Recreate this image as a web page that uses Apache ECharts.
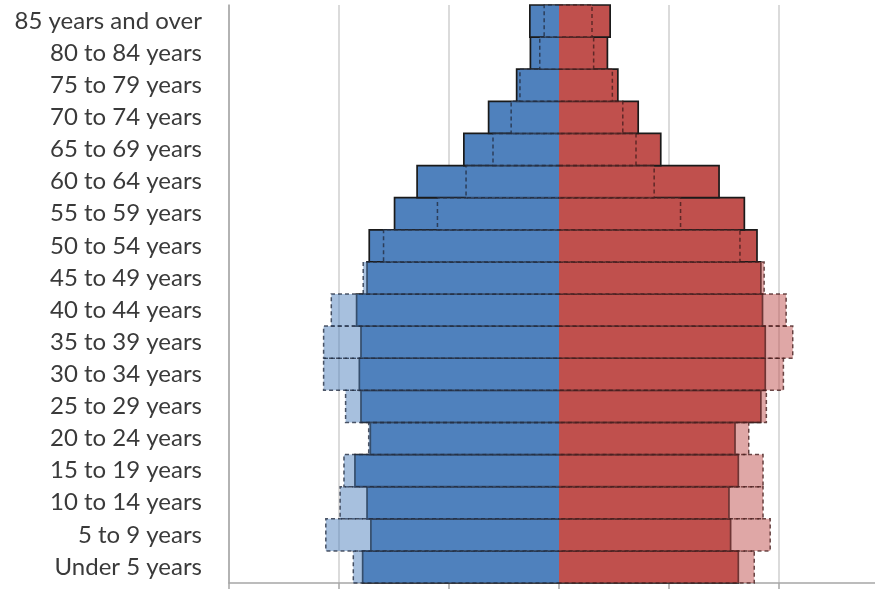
<!DOCTYPE html>
<html>
<head>
<meta charset="utf-8">
<script src="https://cdn.jsdelivr.net/npm/echarts@6/dist/echarts.min.js"></script>
<style>
html,body{margin:0;padding:0;background:#fff;overflow:hidden;}
#chart{width:900px;height:589px;}
</style>
</head>
<body>
<div id="chart"></div>
<script>
// Age groups, bottom to top
var categories = ["Under 5 years","5 to 9 years","10 to 14 years","15 to 19 years","20 to 24 years","25 to 29 years","30 to 34 years","35 to 39 years","40 to 44 years","45 to 49 years","50 to 54 years","55 to 59 years","60 to 64 years","65 to 69 years","70 to 74 years","75 to 79 years","80 to 84 years","85 years and over"];
// Percent of population, current year (solid bars)
var maleCurrent   = [3.57,3.42,3.49,3.71,3.43,3.60,3.63,3.60,3.68,3.49,3.45,2.99,2.58,1.73,1.28,0.77,0.52,0.53];
var femaleCurrent = [3.26,3.12,3.09,3.26,3.20,3.67,3.75,3.75,3.70,3.67,3.60,3.37,2.91,1.85,1.44,1.07,0.88,0.93];
// Percent of population, earlier year (dashed outlines)
var maleEarlier   = [3.74,4.24,3.98,3.91,3.46,3.88,4.28,4.28,4.14,3.56,3.19,2.21,1.69,1.20,0.87,0.71,0.35,0.27];
var femaleEarlier = [3.55,3.84,3.71,3.71,3.45,3.77,4.08,4.25,4.13,3.73,3.29,2.21,1.73,1.40,1.16,0.97,0.63,0.60];
var xTicks = {min:-6, max:6, interval:2};

function toData(arr, sign){
  return arr.map(function(v,i){ return [sign*v, i]; });
}

function makeRender(fill, stroke, lineWidth, dash){
  return function(params, api){
    var v = api.value(0), c = api.value(1);
    var p0 = api.coord([0, c]);
    var p1 = api.coord([v, c]);
    var h = api.size([0, 1])[1];
    var y0 = p0[1] - h/2, y1 = p0[1] + h/2;
    var x0 = p0[0], x1 = p1[0];
    return {
      type: 'group',
      children: [
        {type:'rect', shape:{x:Math.min(x0,x1), y:y0, width:Math.abs(x1-x0), height:h},
         style:{fill:fill, stroke:null}},
        {type:'polyline', shape:{points:[[x0,y0],[x1,y0],[x1,y1],[x0,y1]]},
         style:{fill:null, stroke:stroke, lineWidth:lineWidth, lineDash:dash}}
      ]
    };
  };
}

var chart = echarts.init(document.getElementById('chart'), null, {renderer:'canvas'});
chart.setOption({
  animation:false,
  backgroundColor:'#ffffff',
  grid:{left:229, top:5, width:660, height:578},
  xAxis:{
    type:'value', min:xTicks.min, max:xTicks.max, interval:xTicks.interval,
    axisLabel:{show:false},
    axisLine:{show:true, lineStyle:{color:'#a6a6a6', width:1.5}},
    axisTick:{show:true, length:6, lineStyle:{color:'#a6a6a6', width:1.5}},
    splitLine:{show:true, lineStyle:{color:'#cfcfcf', width:1.5}}
  },
  yAxis:{
    type:'category', data:categories,
    axisLine:{show:true, onZero:false, lineStyle:{color:'#a6a6a6', width:1.5}},
    axisTick:{show:false},
    axisLabel:{fontSize:24, color:'#3a3a3a', fontFamily:'Lato', margin:27, interval:0}
  },
  series:[
    {type:'custom', name:'Male current', z:2, encode:{x:0,y:1},
     renderItem:makeRender('#4F81BD','#1a1a1a',1.7,null), data:toData(maleCurrent,-1)},
    {type:'custom', name:'Female current', z:2, encode:{x:0,y:1},
     renderItem:makeRender('#C0504D','#1a1a1a',1.7,null), data:toData(femaleCurrent,1)},
    {type:'custom', name:'Male earlier', z:3, encode:{x:0,y:1},
     renderItem:makeRender('rgba(79,129,189,0.5)','rgba(35,45,65,0.8)',1.5,[4,3]), data:toData(maleEarlier,-1)},
    {type:'custom', name:'Female earlier', z:3, encode:{x:0,y:1},
     renderItem:makeRender('rgba(192,80,77,0.5)','rgba(70,30,30,0.8)',1.5,[4,3]), data:toData(femaleEarlier,1)}
  ]
});
</script>
</body>
</html>
